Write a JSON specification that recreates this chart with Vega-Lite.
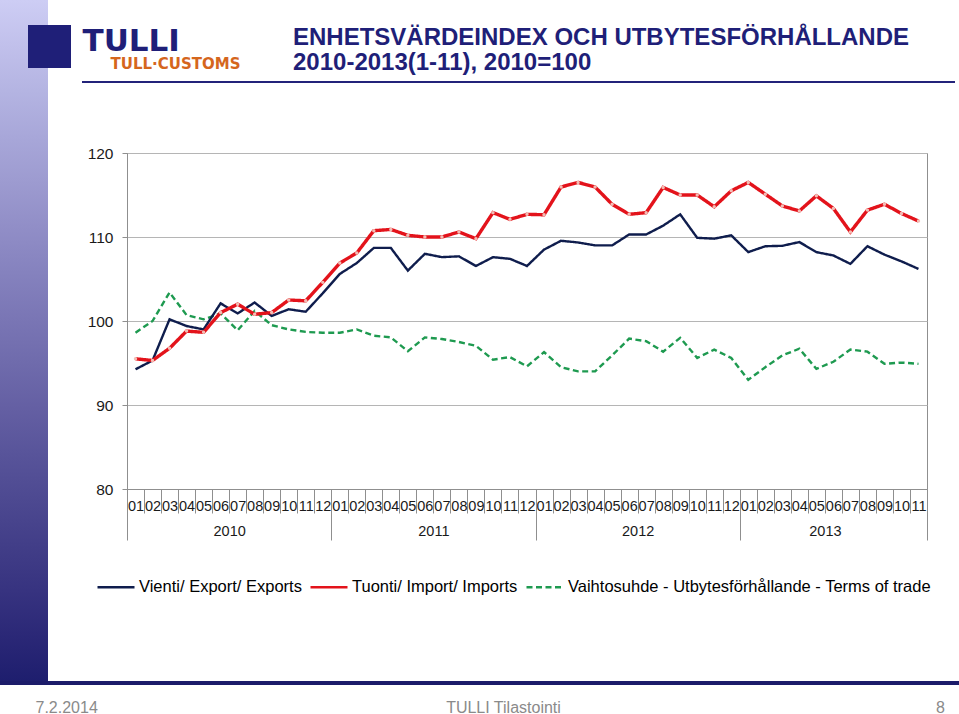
{
  "$schema": "https://vega.github.io/schema/vega-lite/v6.json",
  "width": 800,
  "height": 336,
  "autosize": {"type": "none"},
  "padding": {"left": 127, "top": 153, "right": 32, "bottom": 225},
  "background": "white",
  "config": {"view": {"stroke": "#8f8f8f", "strokeWidth": 1}, "font": "Liberation Sans"},
  "title": {
    "text": ["ENHETSVÄRDEINDEX OCH UTBYTESFÖRHÅLLANDE", "2010-2013(1-11), 2010=100"],
    "anchor": "start", "frame": "group", "dx": 166, "offset": -75,
    "font": "Liberation Sans", "fontSize": 24, "fontWeight": "bold", "color": "#1f1f78", "lineHeight": 25
  },
  "data": {"values": [
    {"month": "2010-01", "Vienti/ Export/ Exports": 94.25, "Tuonti/ Import/ Imports": 95.5, "Vaihtosuhde - Utbytesförhållande - Terms of trade": 98.6},
    {"month": "2010-02", "Vienti/ Export/ Exports": 95.3, "Tuonti/ Import/ Imports": 95.3, "Vaihtosuhde - Utbytesförhållande - Terms of trade": 100.0},
    {"month": "2010-03", "Vienti/ Export/ Exports": 100.2, "Tuonti/ Import/ Imports": 96.75, "Vaihtosuhde - Utbytesförhållande - Terms of trade": 103.4},
    {"month": "2010-04", "Vienti/ Export/ Exports": 99.4, "Tuonti/ Import/ Imports": 98.8, "Vaihtosuhde - Utbytesförhållande - Terms of trade": 100.7},
    {"month": "2010-05", "Vienti/ Export/ Exports": 99.0, "Tuonti/ Import/ Imports": 98.65, "Vaihtosuhde - Utbytesförhållande - Terms of trade": 100.2},
    {"month": "2010-06", "Vienti/ Export/ Exports": 102.1, "Tuonti/ Import/ Imports": 101.0, "Vaihtosuhde - Utbytesförhållande - Terms of trade": 100.9},
    {"month": "2010-07", "Vienti/ Export/ Exports": 100.9, "Tuonti/ Import/ Imports": 102.0, "Vaihtosuhde - Utbytesförhållande - Terms of trade": 98.9},
    {"month": "2010-08", "Vienti/ Export/ Exports": 102.2, "Tuonti/ Import/ Imports": 100.8, "Vaihtosuhde - Utbytesförhållande - Terms of trade": 101.2},
    {"month": "2010-09", "Vienti/ Export/ Exports": 100.6, "Tuonti/ Import/ Imports": 101.0, "Vaihtosuhde - Utbytesförhållande - Terms of trade": 99.5},
    {"month": "2010-10", "Vienti/ Export/ Exports": 101.4, "Tuonti/ Import/ Imports": 102.5, "Vaihtosuhde - Utbytesförhållande - Terms of trade": 99.0},
    {"month": "2010-11", "Vienti/ Export/ Exports": 101.1, "Tuonti/ Import/ Imports": 102.4, "Vaihtosuhde - Utbytesförhållande - Terms of trade": 98.7},
    {"month": "2010-12", "Vienti/ Export/ Exports": 103.3, "Tuonti/ Import/ Imports": 104.6, "Vaihtosuhde - Utbytesförhållande - Terms of trade": 98.6},
    {"month": "2011-01", "Vienti/ Export/ Exports": 105.6, "Tuonti/ Import/ Imports": 106.9, "Vaihtosuhde - Utbytesförhållande - Terms of trade": 98.6},
    {"month": "2011-02", "Vienti/ Export/ Exports": 106.9, "Tuonti/ Import/ Imports": 108.1, "Vaihtosuhde - Utbytesförhållande - Terms of trade": 99.0},
    {"month": "2011-03", "Vienti/ Export/ Exports": 108.7, "Tuonti/ Import/ Imports": 110.75, "Vaihtosuhde - Utbytesförhållande - Terms of trade": 98.25},
    {"month": "2011-04", "Vienti/ Export/ Exports": 108.7, "Tuonti/ Import/ Imports": 110.9, "Vaihtosuhde - Utbytesförhållande - Terms of trade": 98.05},
    {"month": "2011-05", "Vienti/ Export/ Exports": 106.0, "Tuonti/ Import/ Imports": 110.2, "Vaihtosuhde - Utbytesförhållande - Terms of trade": 96.4},
    {"month": "2011-06", "Vienti/ Export/ Exports": 108.0, "Tuonti/ Import/ Imports": 110.0, "Vaihtosuhde - Utbytesförhållande - Terms of trade": 98.05},
    {"month": "2011-07", "Vienti/ Export/ Exports": 107.6, "Tuonti/ Import/ Imports": 110.0, "Vaihtosuhde - Utbytesförhållande - Terms of trade": 97.85},
    {"month": "2011-08", "Vienti/ Export/ Exports": 107.7, "Tuonti/ Import/ Imports": 110.6, "Vaihtosuhde - Utbytesförhållande - Terms of trade": 97.5},
    {"month": "2011-09", "Vienti/ Export/ Exports": 106.55, "Tuonti/ Import/ Imports": 109.8, "Vaihtosuhde - Utbytesförhållande - Terms of trade": 97.05},
    {"month": "2011-10", "Vienti/ Export/ Exports": 107.6, "Tuonti/ Import/ Imports": 112.9, "Vaihtosuhde - Utbytesförhållande - Terms of trade": 95.4},
    {"month": "2011-11", "Vienti/ Export/ Exports": 107.4, "Tuonti/ Import/ Imports": 112.1, "Vaihtosuhde - Utbytesförhållande - Terms of trade": 95.7},
    {"month": "2011-12", "Vienti/ Export/ Exports": 106.55, "Tuonti/ Import/ Imports": 112.7, "Vaihtosuhde - Utbytesförhållande - Terms of trade": 94.6},
    {"month": "2012-01", "Vienti/ Export/ Exports": 108.5, "Tuonti/ Import/ Imports": 112.65, "Vaihtosuhde - Utbytesförhållande - Terms of trade": 96.3},
    {"month": "2012-02", "Vienti/ Export/ Exports": 109.55, "Tuonti/ Import/ Imports": 115.95, "Vaihtosuhde - Utbytesförhållande - Terms of trade": 94.5},
    {"month": "2012-03", "Vienti/ Export/ Exports": 109.35, "Tuonti/ Import/ Imports": 116.5, "Vaihtosuhde - Utbytesförhållande - Terms of trade": 94.0},
    {"month": "2012-04", "Vienti/ Export/ Exports": 109.0, "Tuonti/ Import/ Imports": 115.95, "Vaihtosuhde - Utbytesförhållande - Terms of trade": 94.0},
    {"month": "2012-05", "Vienti/ Export/ Exports": 109.0, "Tuonti/ Import/ Imports": 113.9, "Vaihtosuhde - Utbytesförhållande - Terms of trade": 95.9},
    {"month": "2012-06", "Vienti/ Export/ Exports": 110.3, "Tuonti/ Import/ Imports": 112.7, "Vaihtosuhde - Utbytesförhållande - Terms of trade": 97.9},
    {"month": "2012-07", "Vienti/ Export/ Exports": 110.3, "Tuonti/ Import/ Imports": 112.9, "Vaihtosuhde - Utbytesförhållande - Terms of trade": 97.6},
    {"month": "2012-08", "Vienti/ Export/ Exports": 111.35, "Tuonti/ Import/ Imports": 115.9, "Vaihtosuhde - Utbytesförhållande - Terms of trade": 96.35},
    {"month": "2012-09", "Vienti/ Export/ Exports": 112.7, "Tuonti/ Import/ Imports": 115.0, "Vaihtosuhde - Utbytesförhållande - Terms of trade": 98.0},
    {"month": "2012-10", "Vienti/ Export/ Exports": 109.9, "Tuonti/ Import/ Imports": 115.0, "Vaihtosuhde - Utbytesförhållande - Terms of trade": 95.6},
    {"month": "2012-11", "Vienti/ Export/ Exports": 109.8, "Tuonti/ Import/ Imports": 113.6, "Vaihtosuhde - Utbytesförhållande - Terms of trade": 96.6},
    {"month": "2012-12", "Vienti/ Export/ Exports": 110.2, "Tuonti/ Import/ Imports": 115.5, "Vaihtosuhde - Utbytesförhållande - Terms of trade": 95.6},
    {"month": "2013-01", "Vienti/ Export/ Exports": 108.2, "Tuonti/ Import/ Imports": 116.5, "Vaihtosuhde - Utbytesförhållande - Terms of trade": 93.0},
    {"month": "2013-02", "Vienti/ Export/ Exports": 108.9, "Tuonti/ Import/ Imports": 115.1, "Vaihtosuhde - Utbytesförhållande - Terms of trade": 94.5},
    {"month": "2013-03", "Vienti/ Export/ Exports": 108.95, "Tuonti/ Import/ Imports": 113.7, "Vaihtosuhde - Utbytesförhållande - Terms of trade": 95.9},
    {"month": "2013-04", "Vienti/ Export/ Exports": 109.4, "Tuonti/ Import/ Imports": 113.1, "Vaihtosuhde - Utbytesförhållande - Terms of trade": 96.7},
    {"month": "2013-05", "Vienti/ Export/ Exports": 108.2, "Tuonti/ Import/ Imports": 114.9, "Vaihtosuhde - Utbytesförhållande - Terms of trade": 94.3},
    {"month": "2013-06", "Vienti/ Export/ Exports": 107.8, "Tuonti/ Import/ Imports": 113.4, "Vaihtosuhde - Utbytesförhållande - Terms of trade": 95.15},
    {"month": "2013-07", "Vienti/ Export/ Exports": 106.8, "Tuonti/ Import/ Imports": 110.6, "Vaihtosuhde - Utbytesförhållande - Terms of trade": 96.6},
    {"month": "2013-08", "Vienti/ Export/ Exports": 108.9, "Tuonti/ Import/ Imports": 113.2, "Vaihtosuhde - Utbytesförhållande - Terms of trade": 96.35},
    {"month": "2013-09", "Vienti/ Export/ Exports": 107.9, "Tuonti/ Import/ Imports": 113.9, "Vaihtosuhde - Utbytesförhållande - Terms of trade": 94.9},
    {"month": "2013-10", "Vienti/ Export/ Exports": 107.1, "Tuonti/ Import/ Imports": 112.8, "Vaihtosuhde - Utbytesförhållande - Terms of trade": 95.05},
    {"month": "2013-11", "Vienti/ Export/ Exports": 106.2, "Tuonti/ Import/ Imports": 111.9, "Vaihtosuhde - Utbytesförhållande - Terms of trade": 94.9}
  ]},
  "transform": [
    {"fold": ["Vienti/ Export/ Exports", "Tuonti/ Import/ Imports", "Vaihtosuhde - Utbytesförhållande - Terms of trade"], "as": ["series", "v"]}
  ],
  "encoding": {
    "y": {
      "field": "v", "type": "quantitative",
      "scale": {"domain": [80, 120], "nice": false, "zero": false},
      "axis": {
        "values": [80, 90, 100, 110, 120],
        "title": "7.2.2014", "titleAngle": 0, "titleX": -92, "titleY": 559, "titleAlign": "left", "titleBaseline": "alphabetic",
        "titleFontSize": 16, "titleFontWeight": "normal", "titleColor": "#8a8a8a", "titleFont": "Liberation Sans",
        "domainColor": "#8f8f8f", "tickColor": "#8f8f8f", "tickSize": 5, "labelPadding": 9,
        "labelFontSize": 15.5, "labelColor": "#1a1a1a", "labelFont": "Liberation Sans",
        "gridColor": "#b5b5b5", "gridWidth": 1
      }
    }
  },
  "layer": [
    {
      "transform": [{"filter": "datum.series == 'Vaihtosuhde - Utbytesförhållande - Terms of trade'"}],
      "mark": {"type": "line", "strokeWidth": 2.4},
      "encoding": {
        "x": {
          "field": "month", "type": "ordinal",
          "scale": {"type": "band", "paddingInner": 0, "paddingOuter": 0},
          "axis": {
            "orient": "bottom", "offset": 0,
            "title": "TULLI Tilastointi", "titleX": 376, "titleY": 223, "titleAlign": "center", "titleBaseline": "alphabetic",
            "titleFontSize": 16, "titleFontWeight": "normal", "titleColor": "#8a8a8a", "titleFont": "Liberation Sans",
            "domainColor": "#8f8f8f", "tickColor": "#8f8f8f", "tickBand": "extent", "tickSize": 24,
            "labelExpr": "isValid(datum.value) ? slice(datum.value + '', 5) : ''", "labelFontSize": 14.5, "labelColor": "#1a1a1a", "labelFont": "Liberation Sans",
            "labelPadding": -14, "labelOverlap": false, "labelBound": false, "labelFlush": false, "labelAngle": 0, "grid": false
          }
        },
        "color": {
          "field": "series", "type": "nominal",
          "scale": {"domain": ["Vienti/ Export/ Exports", "Tuonti/ Import/ Imports", "Vaihtosuhde - Utbytesförhållande - Terms of trade"], "range": ["#0f1d4d", "#e3131b", "#1e9a50"]},
          "legend": {
            "title": null, "orient": "none", "legendX": -31, "legendY": 414, "direction": "horizontal",
            "symbolType": "stroke", "symbolSize": 1369, "symbolStrokeWidth": 2.5,
            "labelFontSize": 16.5, "labelColor": "#000000", "labelFont": "Liberation Sans", "labelLimit": 600, "labelOffset": 3, "columnPadding": 3
          }
        },
        "strokeDash": {
          "field": "series", "type": "nominal",
          "scale": {"domain": ["Vienti/ Export/ Exports", "Tuonti/ Import/ Imports", "Vaihtosuhde - Utbytesförhållande - Terms of trade"], "range": [[1, 0], [1, 0], [6, 3.5]]}
        }
      }
    },
    {
      "transform": [{"filter": "datum.series == 'Vienti/ Export/ Exports'"}],
      "mark": {"type": "line", "strokeWidth": 2.4},
      "encoding": {
        "x": {
          "field": "month", "type": "ordinal",
          "scale": {"type": "band", "paddingInner": 0, "paddingOuter": 0},
          "axis": {
            "orient": "bottom", "offset": 0, "domain": false, "grid": false,
            "title": "8", "titleX": 813, "titleY": 223, "titleAlign": "center", "titleBaseline": "alphabetic",
            "titleFontSize": 16, "titleFontWeight": "normal", "titleColor": "#8a8a8a", "titleFont": "Liberation Sans",
            "tickBand": "extent", "tickSize": 51, "tickColor": "#8f8f8f",
            "tickOpacity": {"condition": {"test": "!isValid(datum.value) || slice(datum.value + '', 5) == '12' || datum.value == '2013-11'", "value": 1}, "value": 0},
            "labelExpr": "!isValid(datum.value) ? '' : ((slice(datum.value + '', 5) == '07' && slice(datum.value + '', 0, 4) != '2013') ? slice(datum.value + '', 0, 4) : (datum.value == '2013-06' ? '\u00a0\u00a0\u00a0\u00a02013' : ''))",
            "labelOffset": -8.5,
            "labelPadding": -16, "labelFontSize": 14.5, "labelColor": "#1a1a1a", "labelFont": "Liberation Sans",
            "labelOverlap": false, "labelBound": false, "labelFlush": false, "labelAngle": 0
          }
        },
        "color": {"field": "series", "type": "nominal", "scale": {"domain": ["Vienti/ Export/ Exports", "Tuonti/ Import/ Imports", "Vaihtosuhde - Utbytesförhållande - Terms of trade"], "range": ["#0f1d4d", "#e3131b", "#1e9a50"]}},
        "strokeDash": {"field": "series", "type": "nominal", "scale": {"domain": ["Vienti/ Export/ Exports", "Tuonti/ Import/ Imports", "Vaihtosuhde - Utbytesförhållande - Terms of trade"], "range": [[1, 0], [1, 0], [6, 3.5]]}}
      }
    },
    {
      "transform": [{"filter": "datum.series == 'Tuonti/ Import/ Imports'"}],
      "mark": {"type": "line", "strokeWidth": 3.4},
      "encoding": {
        "x": {"field": "month", "type": "ordinal", "scale": {"type": "band", "paddingInner": 0, "paddingOuter": 0}, "axis": null},
        "color": {"field": "series", "type": "nominal", "scale": {"domain": ["Vienti/ Export/ Exports", "Tuonti/ Import/ Imports", "Vaihtosuhde - Utbytesförhållande - Terms of trade"], "range": ["#0f1d4d", "#e3131b", "#1e9a50"]}},
        "strokeDash": {"field": "series", "type": "nominal", "scale": {"domain": ["Vienti/ Export/ Exports", "Tuonti/ Import/ Imports", "Vaihtosuhde - Utbytesförhållande - Terms of trade"], "range": [[1, 0], [1, 0], [6, 3.5]]}}
      }
    },
    {
      "transform": [{"filter": "datum.series == 'Tuonti/ Import/ Imports'"}],
      "mark": {"type": "point", "filled": true, "shape": "circle", "size": 12, "color": "#f3bdb5", "opacity": 1},
      "encoding": {
        "x": {"field": "month", "type": "ordinal", "scale": {"type": "band", "paddingInner": 0, "paddingOuter": 0}, "axis": null}
      }
    },
    {
      "mark": {"type": "point", "size": 0, "strokeWidth": 0, "filled": true, "opacity": 1, "color": "#1f1f78"},
      "encoding": {
        "x": {
          "field": "month", "type": "ordinal", "scale": {"type": "band", "paddingInner": 0, "paddingOuter": 0},
          "axis": {"orient": "top", "offset": 0, "domain": false, "ticks": false, "labels": false, "grid": false,
            "title": "TULLI", "titleX": -45, "titleY": -103, "titleAlign": "left", "titleBaseline": "alphabetic",
            "titleFontSize": 31, "titleFontWeight": "bold", "titleColor": "#1f1f78", "titleFont": "DejaVu Sans"}
        },
        "fill": {
          "field": "v", "type": "quantitative",
          "scale": {"domain": [90, 120], "range": ["#1e1e6e", "#cdcdf4"]},
          "legend": {"type": "gradient", "orient": "none", "legendX": -127, "legendY": -153, "direction": "vertical",
            "gradientLength": 681, "gradientThickness": 48, "labelOpacity": 0, "title": null, "gradientStrokeWidth": 0, "padding": 0, "gradientOpacity": 1, "zindex": 0}
        },
        "stroke": {
          "field": "v", "type": "quantitative",
          "scale": {"domain": [80, 130], "range": ["#1c1c6a", "#1c1c6a"]},
          "legend": {"type": "gradient", "orient": "none", "legendX": -127, "legendY": 528, "direction": "horizontal",
            "gradientLength": 959, "gradientThickness": 4, "labelOpacity": 0, "title": null, "gradientStrokeWidth": 0, "padding": 0, "gradientOpacity": 1, "zindex": 1}
        },
        "shape": {
          "datum": "emblem", "scale": {"range": ["square"]},
          "legend": {"orient": "none", "legendX": -99, "legendY": -128, "title": null, "symbolSize": 1849,
            "symbolFillColor": "#1f1f78", "symbolStrokeColor": "#1f1f78", "symbolStrokeWidth": 0, "symbolOpacity": 1,
            "labelOpacity": 0, "labelFontSize": 1, "padding": 0, "zindex": 3}
        }
      }
    },
    {
      "mark": {"type": "point", "size": 0, "strokeWidth": 0, "filled": true, "opacity": 1},
      "encoding": {
        "x": {
          "field": "month", "type": "ordinal", "scale": {"type": "band", "paddingInner": 0, "paddingOuter": 0},
          "axis": {"orient": "top", "offset": 0, "domain": false, "ticks": false, "labels": false, "grid": false,
            "title": "TULL·CUSTOMS", "titleX": -17, "titleY": -85, "titleAlign": "left", "titleBaseline": "alphabetic",
            "titleFontSize": 15, "titleFontWeight": "bold", "titleColor": "#d5661d", "titleFont": "DejaVu Sans"}
        },
        "fill": {
          "field": "v", "type": "quantitative",
          "scale": {"domain": [70, 140], "range": ["#23237a", "#23237a"]},
          "legend": {"type": "gradient", "orient": "none", "legendX": -45, "legendY": -72, "direction": "horizontal",
            "gradientLength": 873, "gradientThickness": 2, "labelOpacity": 0, "title": null, "gradientStrokeWidth": 0, "padding": 0, "gradientOpacity": 1}
        }
      }
    }
  ],
  "resolve": {"axis": {"x": "independent"}, "scale": {"fill": "independent"}}
}
